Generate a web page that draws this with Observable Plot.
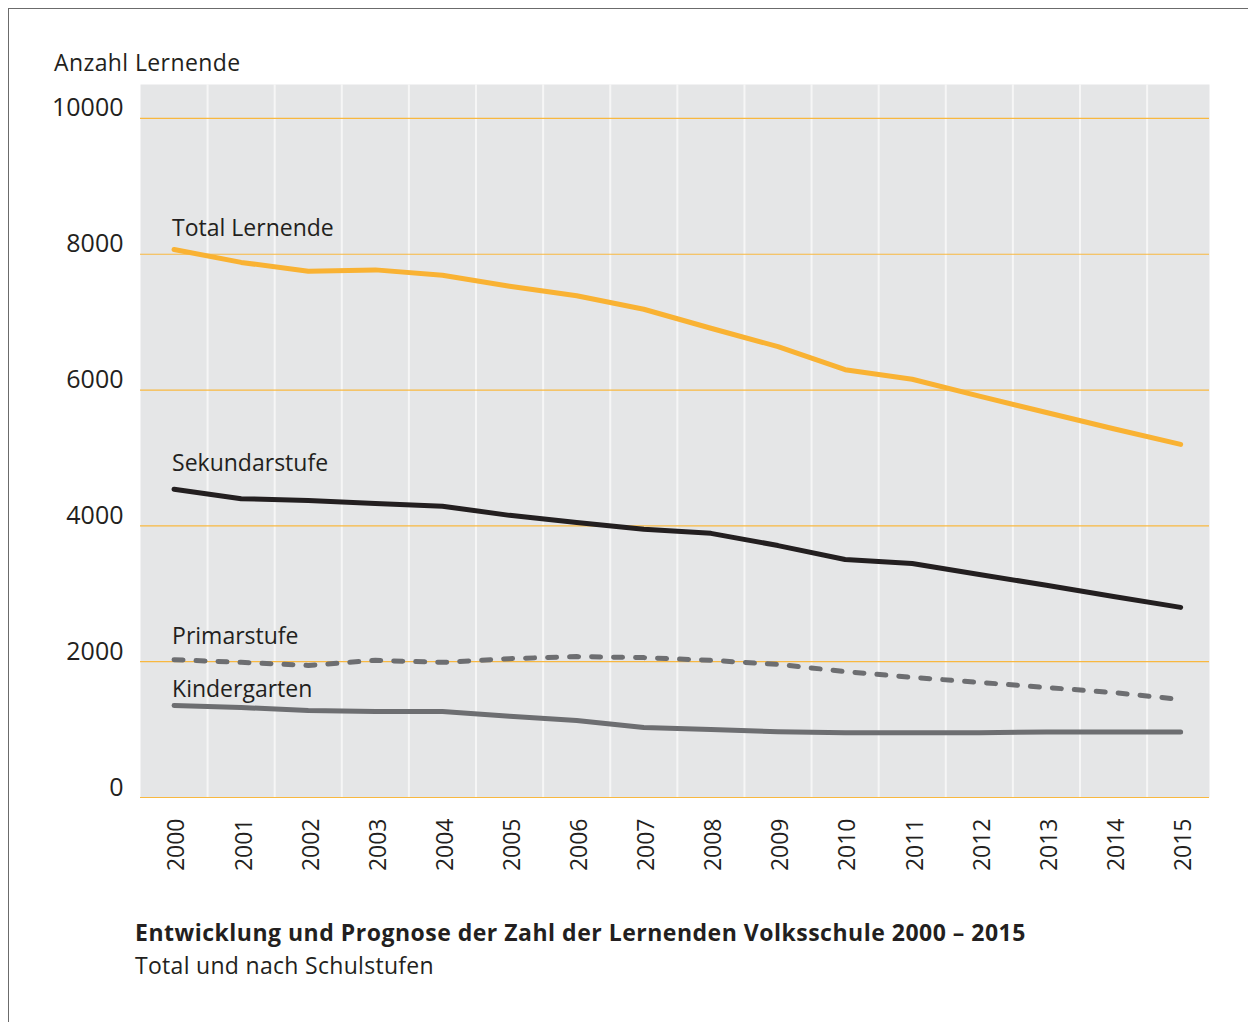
<!DOCTYPE html>
<html><head><meta charset="utf-8">
<script src="https://cdn.jsdelivr.net/npm/d3@7"></script>
<script src="https://cdn.jsdelivr.net/npm/@observablehq/plot@0.6"></script>
<style>
html,body{margin:0;padding:0;background:#fff;width:1248px;height:1022px;overflow:hidden;font-family:"Open Sans",sans-serif;color:#231f20;}
#frame{position:absolute;left:8px;top:8px;width:1300px;height:1100px;border-left:1.5px solid #6b6b6b;border-top:1.5px solid #6b6b6b;box-sizing:border-box;}
#ylab{position:absolute;left:54px;top:47px;font-size:23px;letter-spacing:0.4px;line-height:30px;}
#chart{position:absolute;left:0;top:0;}
#title{position:absolute;left:135px;top:917px;font-weight:700;font-size:23px;letter-spacing:0.5px;line-height:30px;}
#sub{position:absolute;left:135px;top:950px;font-size:23px;letter-spacing:0.3px;line-height:30px;}
</style></head>
<body>
<div id="frame"></div>
<div id="ylab">Anzahl Lernende</div>
<div id="chart"></div>
<div id="title">Entwicklung und Prognose der Zahl der Lernenden Volksschule 2000 – 2015</div>
<div id="sub">Total und nach Schulstufen</div>
<script>
const years = [2000,2001,2002,2003,2004,2005,2006,2007,2008,2009,2010,2011,2012,2013,2014,2015];
const total = [8070,7880,7750,7770,7690,7530,7390,7190,6910,6640,6300,6160,5910,5670,5430,5200];
const sekundar = [4540,4400,4375,4330,4290,4155,4050,3950,3890,3710,3505,3445,3285,3125,2960,2800];
const primar = [2030,1990,1945,2020,1990,2045,2075,2060,2020,1960,1855,1770,1695,1620,1545,1445];
const kinder = [1355,1325,1280,1265,1265,1195,1135,1030,1000,970,955,955,955,965,965,965];
const yTicks = [0,2000,4000,6000,8000,10000];
const seriesNames = ["Total Lernende","Sekundarstufe","Primarstufe","Kindergarten"];

const rows = years.map((yr,i)=>({year:yr,total:total[i],sekundar:sekundar[i],primar:primar[i],kinder:kinder[i]}));
const gridX = years.slice(0,-1).map(y=>y+0.5);
const first = rows[0];

const ink = "#231f20";
const orange = "#f9b233";
const gray = "#6d6e71";

const chart = Plot.plot({
  width: 1248, height: 900,
  marginLeft: 140, marginRight: 39, marginTop: 84, marginBottom: 103,
  x: {domain: [1999.5, 2015.43]},
  y: {domain: [0, 10500]},
  style: {fontFamily: "Open Sans", fontSize: "22px", color: ink, background: "transparent"},
  marks: [
    Plot.frame({fill: "#e5e6e7", stroke: null}),
    Plot.ruleX(gridX, {stroke: "#f6f6f6", strokeWidth: 2}),
    Plot.ruleY(yTicks, {stroke: "#f8b840", strokeWidth: 1.2}),
    Plot.line(rows, {x: "year", y: "kinder", stroke: gray, strokeWidth: 5, strokeLinecap: "round", strokeLinejoin: "round"}),
    Plot.line(rows, {x: "year", y: "primar", stroke: gray, strokeWidth: 5, strokeDasharray: "9,13", strokeLinecap: "round", strokeLinejoin: "round"}),
    Plot.line(rows, {x: "year", y: "sekundar", stroke: ink, strokeWidth: 5, strokeLinecap: "round", strokeLinejoin: "round"}),
    Plot.line(rows, {x: "year", y: "total", stroke: orange, strokeWidth: 5, strokeLinecap: "round", strokeLinejoin: "round"}),
    Plot.text([first], {x: "year", y: "total", text: () => seriesNames[0], textAnchor: "start", dx: -2, dy: -21, fill: ink, fontSize: 23}),
    Plot.text([first], {x: "year", y: "sekundar", text: () => seriesNames[1], textAnchor: "start", dx: -2, dy: -26, fill: ink, fontSize: 23}),
    Plot.text([first], {x: "year", y: "primar", text: () => seriesNames[2], textAnchor: "start", dx: -2, dy: -23, fill: ink, fontSize: 23}),
    Plot.text([first], {x: "year", y: "kinder", text: () => seriesNames[3], textAnchor: "start", dx: -2, dy: -16, fill: ink, fontSize: 23}),
    Plot.axisY({ticks: yTicks, tickFormat: "d", tickSize: 0, tickPadding: 17, dy: -10, fontSize: 25, label: null}),
    Plot.axisX({ticks: years, tickFormat: "d", tickRotate: -90, tickSize: 0, tickPadding: 21, dx: 3, fontSize: 23, label: null})
  ]
});
document.getElementById("chart").appendChild(chart);
</script>
</body></html>
